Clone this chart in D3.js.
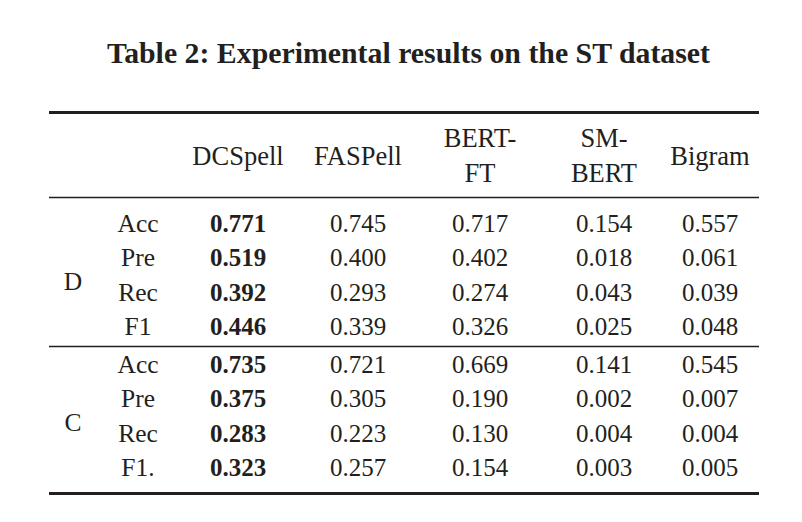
<!DOCTYPE html>
<html>
<head>
<meta charset="utf-8">
<script src="https://cdn.jsdelivr.net/npm/d3@7"></script>
<style>
  html, body { margin: 0; padding: 0; background: #ffffff; }
  svg { display: block; }
  text { font-family: "Liberation Serif", "DejaVu Serif", serif; fill: #231f20; }
</style>
</head>
<body>
<svg id="chart" width="802" height="522"></svg>
<script>
// ---- data ----
const title = "Table 2: Experimental results on the ST dataset";
const methods = ["DCSpell", "FASPell", "BERT-\nFT", "SM-\nBERT", "Bigram"];
const groups = ["D", "C"];
const metricsD = ["Acc", "Pre", "Rec", "F1"];
const metricsC = ["Acc", "Pre", "Rec", "F1."];
const valuesD = [
  ["0.771", "0.745", "0.717", "0.154", "0.557"],
  ["0.519", "0.400", "0.402", "0.018", "0.061"],
  ["0.392", "0.293", "0.274", "0.043", "0.039"],
  ["0.446", "0.339", "0.326", "0.025", "0.048"]
];
const valuesC = [
  ["0.735", "0.721", "0.669", "0.141", "0.545"],
  ["0.375", "0.305", "0.190", "0.002", "0.007"],
  ["0.283", "0.223", "0.130", "0.004", "0.004"],
  ["0.323", "0.257", "0.154", "0.003", "0.005"]
];

// ---- layout ----
const svg = d3.select("#chart");
const left = 49, right = 759;
const columns = ["group", "metric"].concat(methods);
const x = d3.scaleOrdinal().domain(columns).range([73, 138, 238, 358, 480, 604, 710]);

const groupData = [
  { name: groups[0], metrics: metricsD, values: valuesD, firstBase: 231.5 },
  { name: groups[1], metrics: metricsC, values: valuesC, firstBase: 372.5 }
];
const rowStep = 34.5;

// title
svg.append("text")
  .attr("x", 408.5).attr("y", 63)
  .attr("text-anchor", "middle")
  .attr("font-size", 29)
  .attr("font-weight", "bold")
  .attr("textLength", 603)
  .attr("lengthAdjust", "spacingAndGlyphs")
  .text(title);

// rules
const rules = [
  { y: 112.5, w: 3 },
  { y: 197.5, w: 1.5 },
  { y: 346.5, w: 1.5 },
  { y: 493.5, w: 3 }
];
svg.selectAll("line.rule").data(rules).join("line")
  .attr("class", "rule")
  .attr("x1", left).attr("x2", right)
  .attr("y1", d => d.y).attr("y2", d => d.y)
  .attr("stroke", "#231f20")
  .attr("stroke-width", d => d.w);

// header
const header = svg.append("g");
methods.forEach(m => {
  const lines = m.split("\n");
  const t = header.append("text")
    .attr("x", x(m))
    .attr("text-anchor", "middle")
    .attr("font-size", 26.5);
  if (lines.length === 1) {
    t.attr("y", 165).text(lines[0]);
  } else {
    lines.forEach((ln, i) => {
      t.append("tspan").attr("x", x(m)).attr("y", 147 + i * 35).text(ln);
    });
  }
});

// body
groupData.forEach(g => {
  const y = d3.scaleLinear().domain([0, 1]).range([g.firstBase, g.firstBase + rowStep]);
  const mid = (y(0) + y(g.metrics.length - 1)) / 2;
  svg.append("text")
    .attr("x", x("group")).attr("y", mid + 7)
    .attr("text-anchor", "middle")
    .attr("font-size", 25.5)
    .text(g.name);

  g.metrics.forEach((met, i) => {
    svg.append("text")
      .attr("x", x("metric")).attr("y", y(i))
      .attr("text-anchor", "middle")
      .attr("font-size", 25.5)
      .text(met);
    const rowMax = d3.max(g.values[i], v => +v);
    g.values[i].forEach((v, j) => {
      svg.append("text")
        .attr("x", x(methods[j])).attr("y", y(i))
        .attr("text-anchor", "middle")
        .attr("font-size", 25)
        .attr("font-weight", +v === rowMax ? "bold" : "normal")
        .text(v);
    });
  });
});
</script>
</body>
</html>
